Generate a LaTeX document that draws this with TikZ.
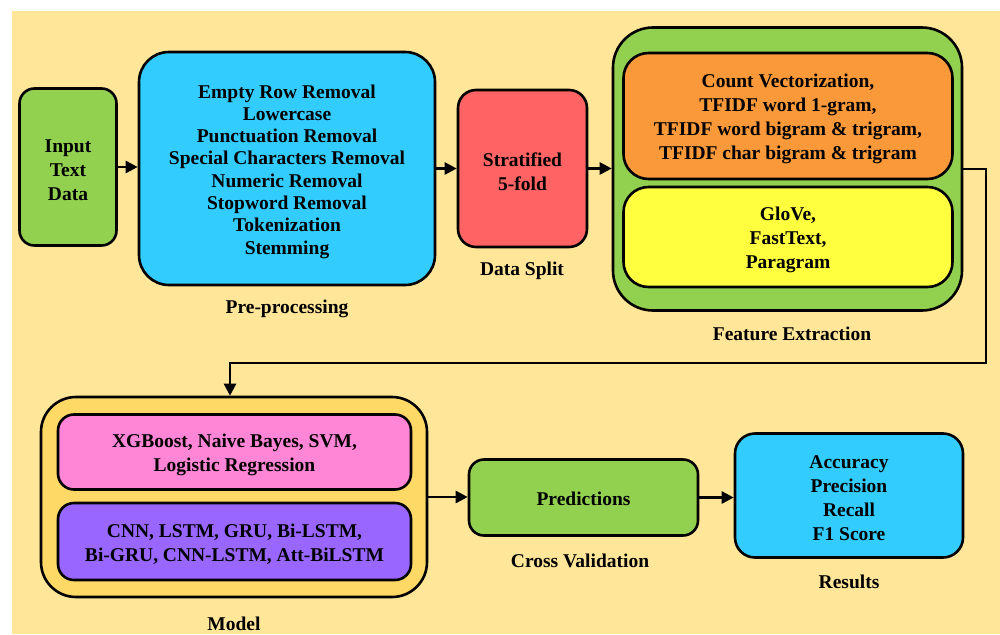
\documentclass[tikz,border=0pt]{standalone}
\usepackage{fontspec}
\setmainfont{Liberation Serif}
\usetikzlibrary{arrows.meta}
\definecolor{bgc}{HTML}{FFE699}
\definecolor{grn}{HTML}{92D050}
\definecolor{blu}{HTML}{33CCFF}
\definecolor{redc}{HTML}{FF6363}
\definecolor{orn}{HTML}{F9993A}
\definecolor{yel}{HTML}{FFFF40}
\definecolor{gold}{HTML}{FFD966}
\definecolor{pnk}{HTML}{FF85D6}
\definecolor{prp}{HTML}{9966FF}
\begin{document}
\begin{tikzpicture}[x=1pt,y=-1pt,
  box/.style={draw=black,line width=2.6pt,inner sep=0pt},
  txt/.style={inner sep=0pt,align=center,font=\fontsize{19.5}{24}\selectfont\bfseries},
  lbl/.style={anchor=base,inner sep=0pt,font=\fontsize{19.5}{24}\selectfont\bfseries},
  arr/.style={line width=2.6pt,-{Triangle[length=12pt,width=12pt]}}]
\useasboundingbox (0,0) rectangle (1000,634);
\fill[bgc] (12,11) rectangle (1000,634);
% top row
\node[box,fill=grn,minimum width=97pt,minimum height=157pt,rounded corners=15pt] (inp) at (68,167) {};
\node[txt] (tinp) at ([yshift=-3pt]inp.center) {Input\\Text\\Data};
\node[box,fill=blu,minimum width=296pt,minimum height=233pt,rounded corners=30pt] (pre) at (287,168.5) {};
\node[txt,font=\fontsize{19.5}{22.3}\selectfont\bfseries] (tpre) at ([yshift=-3pt]pre.center)
  {Empty Row Removal\\Lowercase\\Punctuation Removal\\Special Characters Removal\\Numeric Removal\\Stopword Removal\\Tokenization\\Stemming};
\node[box,fill=redc,minimum width=129pt,minimum height=157pt,rounded corners=18pt] (split) at (522.5,168.5) {};
\node[txt] (tsplit) at ([yshift=-3pt]split.center) {Stratified\\5-fold};
\node[box,fill=grn,minimum width=349pt,minimum height=283pt,rounded corners=40pt] (feat) at (787.5,169) {};
\node[box,fill=orn,minimum width=329pt,minimum height=126pt,rounded corners=25pt] (cnt) at (788,116) {};
\node[txt] (tcnt) at ([yshift=-3pt]cnt.center)
  {Count Vectorization,\\TFIDF word 1-gram,\\TFIDF word bigram \& trigram,\\TFIDF char bigram \& trigram};
\node[box,fill=yel,minimum width=329pt,minimum height=100pt,rounded corners=25pt] (emb) at (788,237) {};
\node[txt] (temb) at ([yshift=-3pt]emb.center) {GloVe,\\FastText,\\Paragram};
% bottom row
\node[box,fill=gold,minimum width=386pt,minimum height=200pt,rounded corners=35pt] (model) at (234,497) {};
\node[box,fill=pnk,minimum width=353pt,minimum height=75pt,rounded corners=16pt] (ml) at (234.5,452) {};
\node[txt] (tml) at ([yshift=-3pt]ml.center) {XGBoost, Naive Bayes, SVM,\\Logistic Regression};
\node[box,fill=prp,minimum width=353pt,minimum height=77pt,rounded corners=16pt] (dl) at (234.5,541.5) {};
\node[txt] (tdl) at ([yshift=-3pt]dl.center) {CNN, LSTM, GRU, Bi-LSTM,\\Bi-GRU, CNN-LSTM, Att-BiLSTM};
\node[box,fill=grn,minimum width=229pt,minimum height=76pt,rounded corners=15pt] (pred) at (583.5,497.5) {};
\node[txt] (tpred) at ([yshift=-1pt]pred.center) {Predictions};
\node[box,fill=blu,minimum width=228pt,minimum height=124pt,rounded corners=20pt] (res) at (849,495.5) {};
\node[txt] (tres) at ([yshift=-3pt]res.center) {Accuracy\\Precision\\Recall\\F1 Score};
% labels
\node[lbl] (lpre) at (287,313) {Pre-processing};
\node[lbl] (lsplit) at (522,275) {Data Split};
\node[lbl] (lfeat) at (792,340) {Feature Extraction};
\node[lbl] (lmodel) at (234,630) {Model};
\node[lbl] (lcv) at (580,567) {Cross Validation};
\node[lbl] (lres) at (849,588) {Results};
% connectors
\coordinate (c1) at (986,363);
\draw[arr] (inp.east) -- (inp.east -| pre.west);
\draw[arr] (pre.east) -- (pre.east -| split.west);
\draw[arr] (split.east) -- (split.east -| feat.west);
\draw[arr] (feat.east) -| (c1) -| ([xshift=-4pt]model.north);
\draw[arr] (model.east) -- (model.east -| pred.west);
\draw[arr] (pred.east) -- (pred.east -| res.west);
\end{tikzpicture}
\end{document}
